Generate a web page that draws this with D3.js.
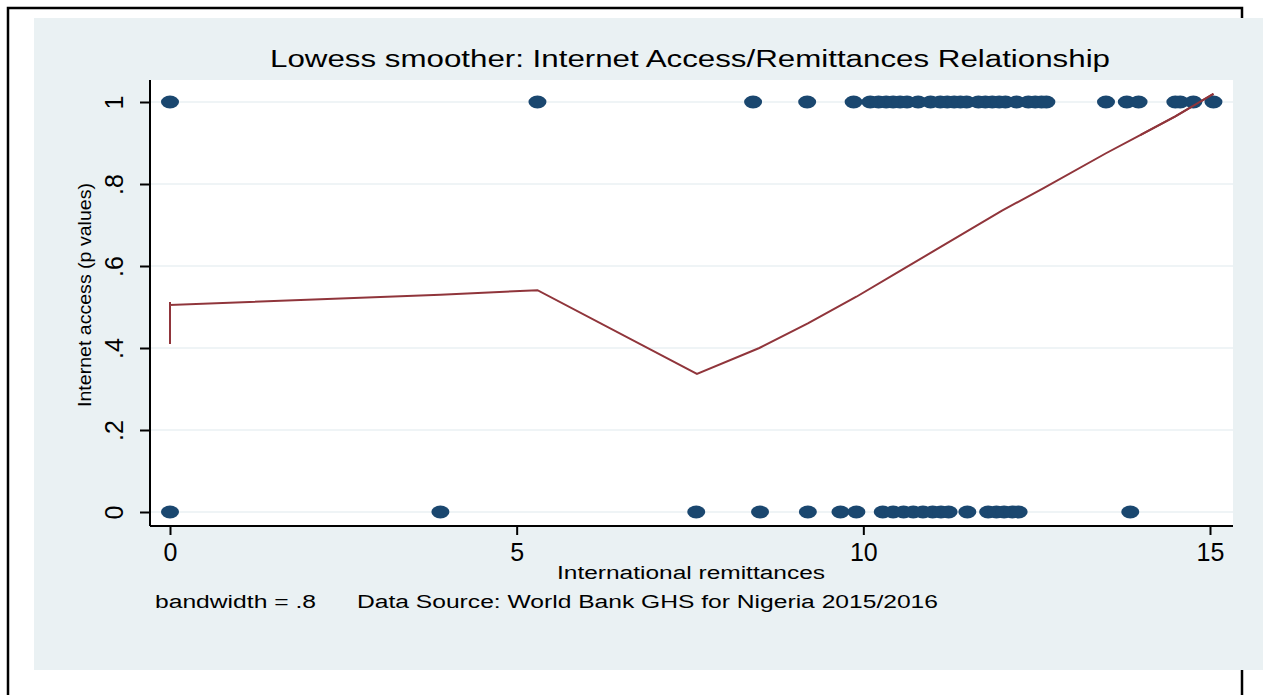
<!DOCTYPE html>
<html>
<head>
<meta charset="utf-8">
<script src="https://cdn.jsdelivr.net/npm/d3@7"></script>
<style>
  body { margin: 0; background: #fff; }
  text { font-family: "Liberation Sans", Arial, sans-serif; fill: #000; }
</style>
</head>
<body>
<div id="chart"></div>
<script>
// data
var topRemit = [0, 5.3, 8.41, 9.19, 9.86, 10.1, 10.22, 10.33, 10.43, 10.53, 10.63, 10.79, 10.97,
  11.11, 11.21, 11.31, 11.4, 11.49, 11.66, 11.76, 11.86, 11.96, 12.05, 12.21, 12.38, 12.48,
  12.57, 12.64, 13.5, 13.8, 13.97, 14.5, 14.57, 14.76, 15.05];
var bottomRemit = [0, 3.9, 7.59, 8.51, 9.2, 9.67, 9.9, 10.28, 10.43, 10.58, 10.72, 10.86, 11.0,
  11.12, 11.23, 11.5, 11.8, 11.92, 12.03, 12.15, 12.24, 13.85];
var lowessX = [0, 0, 0, 3.9, 5.3, 7.6, 8.5, 9.2, 9.9, 10.5, 11.0, 11.5, 12.0, 12.6, 13.5, 14.0, 14.5, 15.05];
var lowessY = [0.41, 0.512, 0.505, 0.53, 0.541, 0.337, 0.40, 0.46, 0.525, 0.585, 0.635, 0.685,
  0.735, 0.79, 0.875, 0.92, 0.965, 1.02];
var xTicks = [0, 5, 10, 15];
var yTicks = [0, 0.2, 0.4, 0.6, 0.8, 1];
var yTickLabels = ["0", ".2", ".4", ".6", ".8", "1"];

var svgWidth = 1263;
var svgHeight = 695;

var plot = { left: 150, right: 1233, top: 80, bottom: 526 };

var svg = d3.select("#chart")
  .append("svg")
  .attr("width", svgWidth)
  .attr("height", svgHeight);

// outer frame, then the graph panel laid over it
svg.append("rect")
  .attr("x", 8).attr("y", 8)
  .attr("width", 1234).attr("height", 720)
  .attr("fill", "none")
  .attr("stroke", "#000")
  .attr("stroke-width", 2.5);

svg.append("rect")
  .attr("x", 34).attr("y", 18)
  .attr("width", 1229).attr("height", 652)
  .attr("fill", "#eaf1f3");

svg.append("rect")
  .attr("x", plot.left).attr("y", plot.top)
  .attr("width", plot.right - plot.left).attr("height", plot.bottom - plot.top)
  .attr("fill", "#fff");

var xScale = d3.scaleLinear().domain([0, 15]).range([170, 1210]);
var yScale = d3.scaleLinear().domain([0, 1]).range([512, 102]);

// grid lines
svg.append("g")
  .selectAll("line")
  .data(yTicks)
  .enter()
  .append("line")
  .attr("x1", plot.left).attr("x2", plot.right)
  .attr("y1", d => yScale(d)).attr("y2", d => yScale(d))
  .attr("stroke", "#eaf1f3")
  .attr("stroke-width", 1.5);

// axes
var bottomAxis = d3.axisBottom(xScale).tickValues(xTicks).tickSize(9).tickPadding(8).tickFormat(d3.format("d"));
var xAxis = svg.append("g")
  .attr("transform", `translate(0, ${plot.bottom})`)
  .call(bottomAxis);
xAxis.select(".domain")
  .attr("d", `M${plot.left},0H${plot.right}`)
  .attr("stroke-width", 2);
xAxis.selectAll(".tick line").attr("stroke-width", 2);
xAxis.selectAll(".tick text")
  .style("font-size", "25px");

var leftAxis = d3.axisLeft(yScale).tickValues(yTicks).tickSize(10)
  .tickFormat((d, i) => yTickLabels[i]);
var yAxis = svg.append("g")
  .attr("transform", `translate(${plot.left}, 0)`)
  .call(leftAxis);
yAxis.select(".domain")
  .attr("d", `M0,${plot.top}V${plot.bottom}`)
  .attr("stroke-width", 2);
yAxis.selectAll(".tick line").attr("stroke-width", 2);
yAxis.selectAll(".tick text")
  .attr("x", null).attr("dy", null)
  .attr("text-anchor", "middle")
  .attr("transform", "translate(-27,0) rotate(-90)")
  .style("font-size", "25px");

// lowess line
var linePts = lowessX.map((x, i) => [x, lowessY[i]]);
svg.append("path")
  .datum(linePts)
  .attr("d", d3.line().x(d => xScale(d[0])).y(d => yScale(d[1])))
  .attr("fill", "none")
  .attr("stroke", "#90353b")
  .attr("stroke-width", 2);

// scatter markers
var pts = topRemit.map(x => ({ x: x, y: 1 })).concat(bottomRemit.map(x => ({ x: x, y: 0 })));
svg.append("g")
  .selectAll("ellipse")
  .data(pts)
  .enter()
  .append("ellipse")
  .attr("cx", d => xScale(d.x))
  .attr("cy", d => yScale(d.y))
  .attr("rx", 9)
  .attr("ry", 6.5)
  .attr("fill", "#1a476f");

// redraw the line on top near the end (it crosses the markers)
svg.append("path")
  .datum(linePts.slice(-3))
  .attr("d", d3.line().x(d => xScale(d[0])).y(d => yScale(d[1])))
  .attr("fill", "none")
  .attr("stroke", "#90353b")
  .attr("stroke-width", 2);

// texts
svg.append("text")
  .attr("x", 270).attr("y", 67)
  .attr("textLength", 840).attr("lengthAdjust", "spacingAndGlyphs")
  .style("font-size", "23px")
  .text("Lowess smoother: Internet Access/Remittances Relationship");

svg.append("text")
  .attr("x", 557).attr("y", 579)
  .attr("textLength", 268).attr("lengthAdjust", "spacingAndGlyphs")
  .style("font-size", "18px")
  .text("International remittances");

svg.append("text")
  .attr("transform", "translate(91, 407) rotate(-90)")
  .attr("textLength", 224).attr("lengthAdjust", "spacingAndGlyphs")
  .style("font-size", "19px")
  .text("Internet access (p values)");

svg.append("text")
  .attr("x", 155).attr("y", 608)
  .attr("textLength", 161).attr("lengthAdjust", "spacingAndGlyphs")
  .style("font-size", "18px")
  .text("bandwidth = .8");

svg.append("text")
  .attr("x", 357).attr("y", 608)
  .attr("textLength", 581).attr("lengthAdjust", "spacingAndGlyphs")
  .style("font-size", "18px")
  .text("Data Source: World Bank GHS for Nigeria 2015/2016");
</script>
</body>
</html>
